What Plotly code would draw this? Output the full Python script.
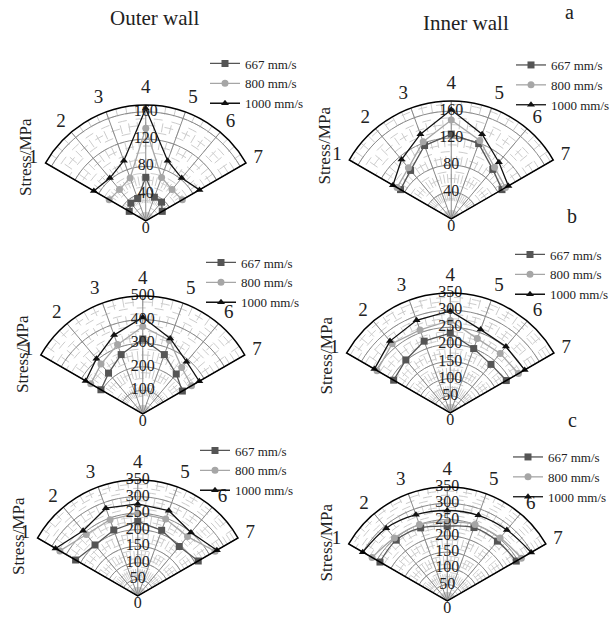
import plotly.graph_objects as go

# ---------------- data ----------------
pos_labels = ['1', '2', '3', '4', '5', '6', '7']
speeds = ['667 mm/s', '800 mm/s', '1000 mm/s']

# (a) outer wall
a_outer_667 = [28, 34, 35, 64, 37, 36, 28]
a_outer_800 = [62, 60, 67, 136, 68, 60, 62]
a_outer_1000 = [88, 82, 94, 165, 94, 82, 91]
# (a) inner wall
a_inner_667 = [87, 94, 116, 126, 119, 96, 87]
a_inner_800 = [93, 99, 122, 147, 124, 100, 93]
a_inner_1000 = [100, 115, 134, 162, 134, 110, 98]
# (b) outer wall
b_outer_667 = [205, 226, 268, 318, 268, 221, 194]
b_outer_800 = [255, 276, 313, 371, 332, 257, 239]
b_outer_1000 = [280, 306, 356, 410, 341, 289, 277]
# (b) inner wall
b_inner_667 = [191, 202, 223, 233, 200, 185, 189]
b_inner_800 = [247, 264, 258, 270, 231, 227, 230]
b_inner_1000 = [256, 274, 288, 298, 259, 253, 251]
# (c) outer wall
c_outer_667 = [217, 201, 212, 225, 211, 195, 211]
c_outer_800 = [272, 242, 245, 250, 247, 234, 270]
c_outer_1000 = [287, 257, 282, 278, 274, 250, 276]
# (c) inner wall
c_inner_667 = [239, 244, 239, 230, 240, 240, 245]
c_inner_800 = [267, 253, 250, 243, 250, 253, 263]
c_inner_1000 = [300, 292, 282, 278, 280, 285, 298]

radial_ticks_a = [0, 40, 80, 120, 160]
radial_ticks_b_outer = [0, 100, 200, 300, 400, 500]
radial_ticks_350 = [0, 50, 100, 150, 200, 250, 300, 350]

# ---------------- layout helpers ----------------
W, H = 615, 617
FONT = 'Liberation Serif'
TXT = '#222222'

panels = [
    dict(c=(146, 221, 116), rmax=170, ticks=radial_ticks_a,
         series=[a_outer_667, a_outer_800, a_outer_1000], shape='linear',
         legend=(205, 48.5), ylab=(25, 157)),
    dict(c=(452, 219, 118), rmax=175, ticks=radial_ticks_a,
         series=[a_inner_667, a_inner_800, a_inner_1000], shape='linear',
         legend=(512, 50), ylab=(325, 145)),
    dict(c=(143, 414, 118), rmax=500, ticks=radial_ticks_b_outer,
         series=[b_outer_667, b_outer_800, b_outer_1000], shape='linear',
         legend=(201, 247.5), ylab=(23, 354)),
    dict(c=(451, 413, 120), rmax=350, ticks=radial_ticks_350,
         series=[b_inner_667, b_inner_800, b_inner_1000], shape='linear',
         legend=(510, 239.5), ylab=(327, 355)),
    dict(c=(138, 596, 116), rmax=350, ticks=radial_ticks_350,
         series=[c_outer_667, c_outer_800, c_outer_1000], shape='linear',
         legend=(195, 435.5), ylab=(18, 536)),
    dict(c=(448, 601, 114), rmax=350, ticks=radial_ticks_350,
         series=[c_inner_667, c_inner_800, c_inner_1000], shape='spline',
         legend=(508, 442), ylab=(327, 542)),
]

styles = [
    dict(color='#555555', symbol='square'),
    dict(color='#a6a6a6', symbol='circle'),
    dict(color='#111111', symbol='triangle-up'),
]

fig = go.Figure()
layout = dict()

n = len(panels)
for i, p in enumerate(panels):
    cx, cy, R = p['c']
    xd = [(cx - 0.866 * R) / W, (cx + 0.866 * R) / W]
    yd = [1 - cy / H, 1 - (cy - R) / H]
    minor_id = '' if i == 0 else str(i + 1)
    major_id = str(i + 1 + n)
    step = p['ticks'][1] - p['ticks'][0]
    minor_vals = [k * step / 4 for k in range(0, int(p['rmax'] / (step / 4)) + 1)]
    # minor grid polar (behind)
    layout['polar' + minor_id] = dict(
        domain=dict(x=xd, y=yd), sector=[30, 150], bgcolor='white',
        radialaxis=dict(range=[0, p['rmax']], tickvals=minor_vals, showticklabels=False,
                        ticks='', showline=False, gridcolor='#cccccc', griddash='dash',
                        gridwidth=0.8, angle=90),
        angularaxis=dict(type='linear', rotation=150, direction='clockwise',
                         tickvals=list(range(0, 125, 5)), showticklabels=False, ticks='',
                         showline=False, gridcolor='#cccccc', griddash='dash', gridwidth=0.8),
    )
    fig.add_trace(go.Scatterpolar(r=[], theta=[], subplot='polar' + minor_id,
                                  showlegend=False, hoverinfo='skip'))
    # major polar with data
    leg_id = 'legend' if i == 0 else 'legend' + str(i + 1)
    layout['polar' + major_id] = dict(
        domain=dict(x=xd, y=yd), sector=[30, 150], bgcolor='rgba(0,0,0,0)',
        radialaxis=dict(range=[0, p['rmax']], tickvals=p['ticks'], ticks='',
                        showticklabels=False, showline=False,
                        gridcolor='#8a8a8a', gridwidth=1, angle=90),
        angularaxis=dict(type='category', categoryorder='array', categoryarray=pos_labels,
                         period=18, rotation=150, direction='clockwise',
                         ticks='outside', ticklen=4, tickcolor='rgba(0,0,0,0)',
                         showline=True, linecolor='black', linewidth=1.5,
                         gridcolor='#8a8a8a', gridwidth=1,
                         tickfont=dict(family=FONT, size=19, color=TXT)),
    )
    for s, (vals, st) in enumerate(zip(p['series'], styles)):
        fig.add_trace(go.Scatterpolar(
            r=vals, theta=pos_labels, mode='lines+markers', name=speeds[s],
            subplot='polar' + major_id, legend=leg_id,
            line=dict(color=st['color'], width=1.3, shape=p['shape']),
            marker=dict(color=st['color'], symbol=st['symbol'], size=7),
        ))
    # radial tick labels, centred on the vertical spoke (position 4)
    ticks = p['ticks']
    fig.add_trace(go.Scatterpolar(
        r=ticks, theta=['4'] * len(ticks), mode='text',
        text=[str(t) for t in ticks],
        textposition=['bottom center' if t == 0 else 'middle center' for t in ticks],
        textfont=dict(family=FONT, size=16, color=TXT),
        subplot='polar' + major_id, showlegend=False, hoverinfo='skip', cliponaxis=False,
    ))
    lx, ly = p['legend']
    layout[leg_id] = dict(x=lx / W, y=1 - ly / H, xanchor='left', yanchor='top',
                          bgcolor='rgba(0,0,0,0)', itemwidth=30, tracegroupgap=0,
                          font=dict(family=FONT, size=13, color=TXT))

annotations = []
for p in panels:
    x, y = p['ylab']
    annotations.append(dict(text='Stress/MPa', x=x / W, y=1 - y / H, xref='paper', yref='paper',
                            xanchor='center', yanchor='middle',
                            showarrow=False, textangle=-90,
                            font=dict(family=FONT, size=17, color=TXT)))
for text, x, y, size in [('Outer wall', 155, 18, 21), ('Inner wall', 467, 23, 21),
                         ('a', 570, 12, 20), ('b', 573, 216, 20), ('c', 573, 420, 20)]:
    annotations.append(dict(text=text, x=x / W, y=1 - y / H, xref='paper', yref='paper',
                            xanchor='center', yanchor='middle', showarrow=False,
                            font=dict(family=FONT, size=size, color=TXT)))

fig.update_layout(width=W, height=H, margin=dict(l=0, r=0, t=0, b=0),
                  paper_bgcolor='white', plot_bgcolor='white',
                  annotations=annotations, **layout)
fig.write_html('out.html', config={'displayModeBar': False},
               post_script="document.body.style.margin='0';document.body.style.padding='0';")
